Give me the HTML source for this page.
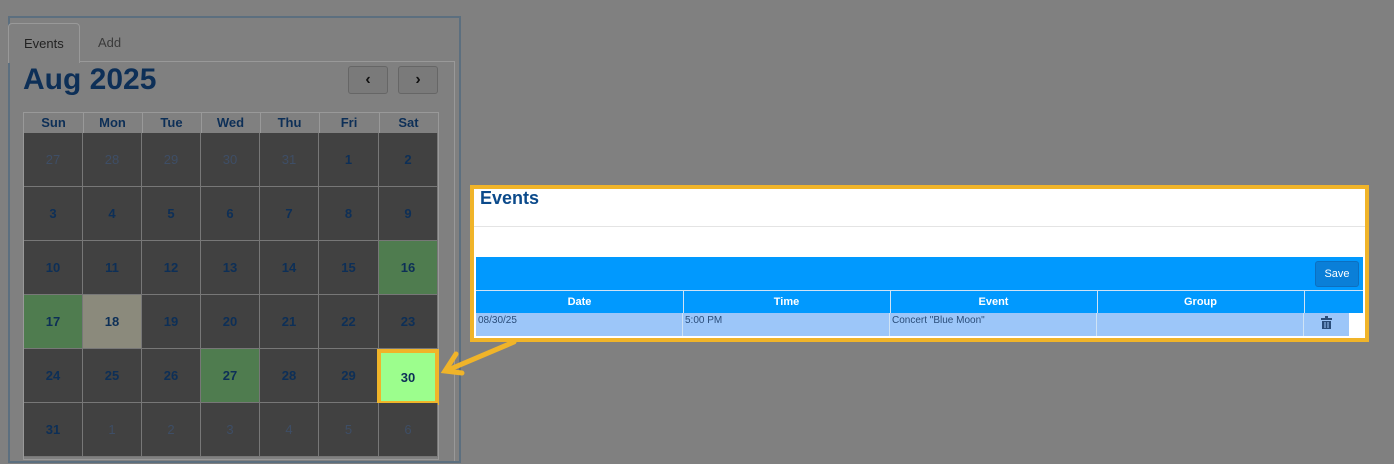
<!DOCTYPE html><html><head><style>
body{margin:0;width:1394px;height:464px;background:#808080;font-family:"Liberation Sans",sans-serif;position:relative;overflow:hidden}
.a{position:absolute;box-sizing:border-box}
.c{position:absolute;background:#414141;color:#0d2f57;font-weight:bold;font-size:13px;display:flex;align-items:center;justify-content:center;box-sizing:border-box}
.h{position:absolute;color:#0d2f57;font-weight:bold;font-size:13px;text-align:center;top:113px;height:20px;line-height:20px}
.th{position:absolute;top:291px;height:22px;line-height:22px;color:#fff;font-weight:bold;font-size:11px;text-align:center;border-right:1px solid #cfe3f5}
.td{position:absolute;top:313px;height:23px;font-size:10px;color:#2a4d7a;padding:2px;box-sizing:border-box;border-right:1px solid #cfe3f5}
</style></head><body>
<div class="a" style="left:8px;top:16px;width:453px;height:447px;border:2px solid #5c6f7f"></div>
<div class="a" style="left:8px;top:23px;width:72px;height:40px;border:1px solid #999;border-bottom:none;border-radius:4px 4px 0 0;font-size:13px;color:#222;padding:12px 0 0 15px;background:#808080">Events</div>
<div class="a" style="left:98px;top:35px;font-size:13px;color:#3a3a3a">Add</div>
<div class="a" style="left:79px;top:61px;width:375px;height:1px;background:#999"></div>
<div class="a" style="left:454px;top:61px;width:1px;height:400px;background:#999"></div>
<div class="a" style="left:23px;top:63px;font-size:30px;font-weight:bold;color:#0d2f57">Aug 2025</div>
<div class="a" style="left:348px;top:66px;width:40px;height:28px;border:1px solid #666;border-radius:3px;background:#7a7a7a;text-align:center;line-height:26px;font-size:16px;font-weight:bold;color:#111">&lsaquo;</div>
<div class="a" style="left:398px;top:66px;width:40px;height:28px;border:1px solid #666;border-radius:3px;background:#7a7a7a;text-align:center;line-height:26px;font-size:16px;font-weight:bold;color:#111">&rsaquo;</div>
<div class="a" style="left:23px;top:112px;width:416px;height:348px;border:1px solid #999"></div>
<div id="g"></div>
<script>
var cols=[24,83,142,201,260,319,379,438],n=["Sun","Mon","Tue","Wed","Thu","Fri","Sat"],s="";
for(var i=0;i<7;i++)s+='<div class="h" style="left:'+cols[i]+'px;width:'+(cols[i+1]-cols[i])+'px;border-right:1px solid #999">'+n[i]+'</div>';
var d=[27,28,29,30,31,1,2];for(var k=3;k<=31;k++)d.push(k);for(k=1;k<=6;k++)d.push(k);
var sp={16:"#4f7c4f",17:"#4f7c4f",18:"#8b8a7c",27:"#4f7c4f",30:"#9cfe8d"};
for(var r=0;r<6;r++)for(i=0;i<7;i++){var idx=r*7+i,v=d[idx],dim=(r==0&&i<5)||(r==5&&i>0);
var bg=(!dim&&sp[v])?sp[v]:"#414141";var y=133+r*54;
var st='left:'+cols[i]+'px;top:'+y+'px;width:'+(cols[i+1]-cols[i])+'px;height:54px;background:'+bg+';border-right:1px solid #777;border-bottom:1px solid #777;';
if(dim)st+='color:#3e4e66;font-weight:normal;';
if(!dim&&v==30)st+='border:4px solid #f0b429;left:377px;top:349px;width:62px;height:56px;';
s+='<div class="c" style="'+st+'">'+v+'</div>';}
document.getElementById("g").innerHTML=s;
</script>
<div class="a" style="left:470px;top:185px;width:899px;height:157px;border:4px solid #f0b429;background:#fff"></div>
<div class="a" style="left:480px;top:188px;font-size:18px;font-weight:bold;color:#0b4a8b">Events</div>
<div class="a" style="left:474px;top:226px;width:891px;height:1px;background:#e4e4e4"></div>
<div class="a" style="left:476px;top:257px;width:887px;height:34px;background:#0199fe;border-bottom:1px solid #cfe3f5"></div>
<div class="a" style="left:1315px;top:261px;width:44px;height:26px;background:#0a7fd8;border:1px solid #0c6fc0;border-radius:3px;color:#fff;font-size:11px;text-align:center;line-height:24px">Save</div>
<div class="a" style="left:476px;top:291px;width:887px;height:22px;background:#0199fe"></div>
<div class="th" style="left:476px;width:207px">Date</div>
<div class="th" style="left:683px;width:207px">Time</div>
<div class="th" style="left:890px;width:207px">Event</div>
<div class="th" style="left:1097px;width:207px">Group</div>
<div class="a" style="left:476px;top:313px;width:873px;height:23px;background:#9cc6f9"></div>
<div class="td" style="left:476px;width:207px">08/30/25</div>
<div class="td" style="left:683px;width:207px">5:00 PM</div>
<div class="td" style="left:890px;width:207px">Concert "Blue Moon"</div>
<div class="td" style="left:1097px;width:207px"></div>
<svg class="a" style="left:1321px;top:316px" width="11" height="13"><rect x="0" y="2" width="11" height="2" fill="#2a4d7a"/><rect x="4" y="0" width="3" height="2" fill="#2a4d7a"/><rect x="1" y="5" width="9" height="8" fill="#2a4d7a"/><line x1="4" y1="6" x2="4" y2="12" stroke="#9cc6f9"/><line x1="7" y1="6" x2="7" y2="12" stroke="#9cc6f9"/></svg>
<svg class="a" style="left:0;top:0" width="1394" height="464"><g fill="none" stroke="#f0b429" stroke-width="5" stroke-linecap="round"><line x1="514" y1="342" x2="448" y2="370"/><polyline points="456,354 445,371 462,373"/></g></svg>
</body></html>
